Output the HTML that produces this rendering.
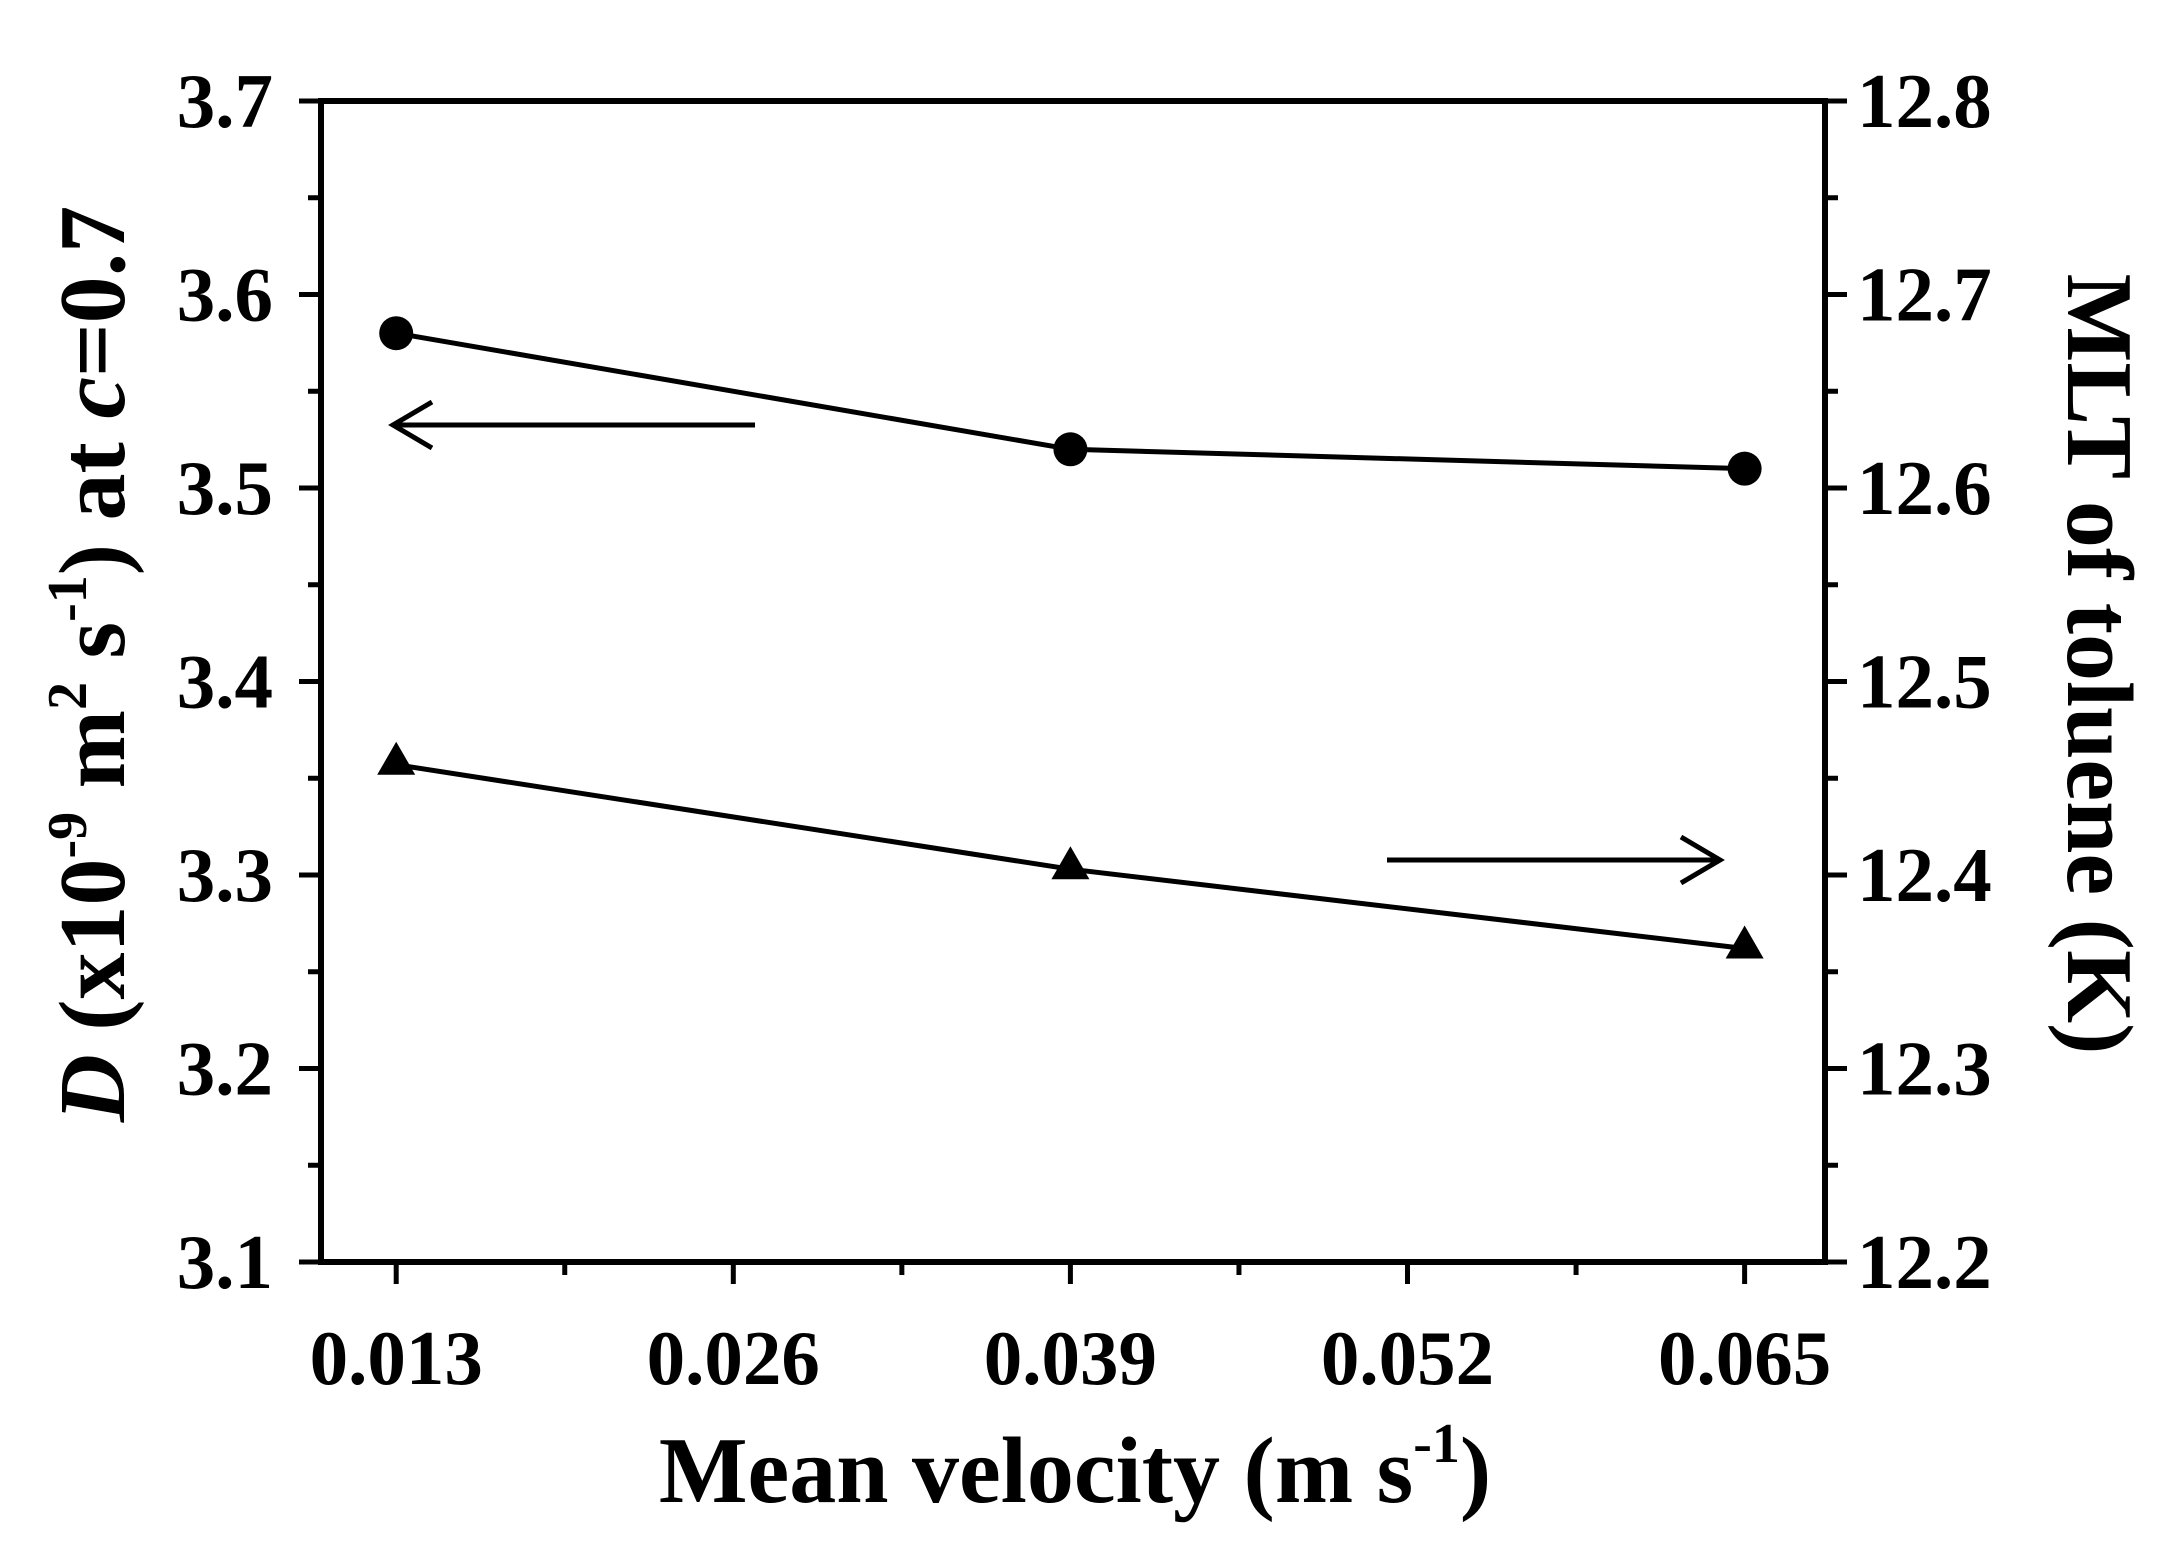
<!DOCTYPE html>
<html><head><meta charset="utf-8"><style>
html,body{margin:0;padding:0;background:#fff;}
svg{display:block;font-family:"Liberation Serif",serif;font-weight:bold;}
</style></head><body>
<svg id="chart" width="2159" height="1561" viewBox="0 0 2159 1561" xmlns="http://www.w3.org/2000/svg">
<g id="g"></g>
</svg>
<script>
const xTicks=[0.013,0.026,0.039,0.052,0.065];
const xTickLabels=["0.013","0.026","0.039","0.052","0.065"];
const yLeftTicks=[3.1,3.2,3.3,3.4,3.5,3.6,3.7];
const yRightTicks=[12.2,12.3,12.4,12.5,12.6,12.7,12.8];
const velocities=[0.013,0.039,0.065];
const diffusivity=[3.58,3.52,3.51];
const mlt=[12.457,12.403,12.362];

const L=321,R=1825,T=101,B=1262;
const xMin=0.0101,xMax=0.0681;
const sx=v=>L+(v-xMin)/(xMax-xMin)*(R-L);
const syL=v=>B-(v-3.1)/0.6*(B-T);
const syR=v=>B-(v-12.2)/0.6*(B-T);
const g=document.getElementById('g');
const NS="http://www.w3.org/2000/svg";
function mk(tag,attrs,parent){const e=document.createElementNS(NS,tag);for(const k in attrs)e.setAttribute(k,attrs[k]);(parent||g).appendChild(e);return e;}
function txt(s,x,y,size,anchor,parent){const t=mk('text',{x:x,y:y,'font-size':size,'text-anchor':anchor||'middle'},parent);t.textContent=s;return t;}

const frame=mk('rect',{x:L,y:T,width:R-L,height:B-T,fill:'none',stroke:'#000','stroke-width':6});



xTicks.forEach((v,i)=>{
  const x=sx(v);
  const t=mk('line',{x1:x,x2:x,y1:B,y2:B+22,stroke:'#000','stroke-width':5});
  
  
  const m=sx(v+0.0065);
  if(m<R){const mt=mk('line',{x1:m,x2:m,y1:B,y2:B+13,stroke:'#000','stroke-width':5});
    
    }
  const lb=txt(xTickLabels[i],x,B+122,77);
  
  
});
yLeftTicks.forEach((v,i)=>{
  const y=syL(v);
  const t=mk('line',{x1:L-22,x2:L,y1:y,y2:y,stroke:'#000','stroke-width':5});
  
  
  const lb=txt(v.toFixed(1),L-48,y+26,77,'end');
  
  
  if(i<yLeftTicks.length-1){const ym=syL(v+0.05);
    const m=mk('line',{x1:L-13,x2:L,y1:ym,y2:ym,stroke:'#000','stroke-width':5});
    
    }
});
yRightTicks.forEach((v,i)=>{
  const y=syR(v);
  const t=mk('line',{x1:R,x2:R+22,y1:y,y2:y,stroke:'#000','stroke-width':5});
  
  
  const lb=txt(v.toFixed(1),R+32,y+26,77,'start');
  
  
  if(i<yRightTicks.length-1){const ym=syR(v+0.05);
    const m=mk('line',{x1:R,x2:R+13,y1:ym,y2:ym,stroke:'#000','stroke-width':5});
    
    }
});

const pD=velocities.map((v,i)=>sx(v)+','+syL(diffusivity[i])).join(' ');
const lD=mk('polyline',{points:pD,fill:'none',stroke:'#000','stroke-width':5});


velocities.forEach((v,i)=>{
  const c=mk('circle',{cx:sx(v),cy:syL(diffusivity[i]),r:17,fill:'#000'});
  
  
});
const pM=velocities.map((v,i)=>sx(v)+','+syR(mlt[i])).join(' ');
const lM=mk('polyline',{points:pM,fill:'none',stroke:'#000','stroke-width':5});


velocities.forEach((v,i)=>{
  const x=sx(v),y=syR(mlt[i])-4;
  const tr=mk('polygon',{points:`${x},${y-19} ${x-19},${y+14} ${x+19},${y+14}`,fill:'#000'});
  
  
});

const a1=mk('path',{d:'M755,425 L393,425 M432,402 L393,425 L432,448',fill:'none',stroke:'#000','stroke-width':5});


const a2=mk('path',{d:'M1387,860 L1720,860 M1681,837 L1720,860 L1681,883',fill:'none',stroke:'#000','stroke-width':5});


</script>
<svg style="position:absolute;left:0;top:0" width="2159" height="1561" viewBox="0 0 2159 1561" xmlns="http://www.w3.org/2000/svg" font-family="Liberation Serif, serif" font-weight="bold">
<text x="1075" y="1502" font-size="94" text-anchor="middle">Mean velocity (m s<tspan dy="-40" font-size="56">-1</tspan><tspan dy="40">)</tspan></text>
<text transform="translate(124,664) rotate(-90)" font-size="94" text-anchor="middle"><tspan font-style="italic">D</tspan> (x10<tspan dy="-38" font-size="56">-9</tspan><tspan dy="38"> m</tspan><tspan dy="-38" font-size="56">2</tspan><tspan dy="38"> s</tspan><tspan dy="-38" font-size="56">-1</tspan><tspan dy="38">) at </tspan><tspan font-style="italic">c</tspan>=0.7</text>
<text transform="translate(2068,664) rotate(90)" font-size="94" text-anchor="middle">MLT of toluene (K)</text>
</svg>
</body></html>
